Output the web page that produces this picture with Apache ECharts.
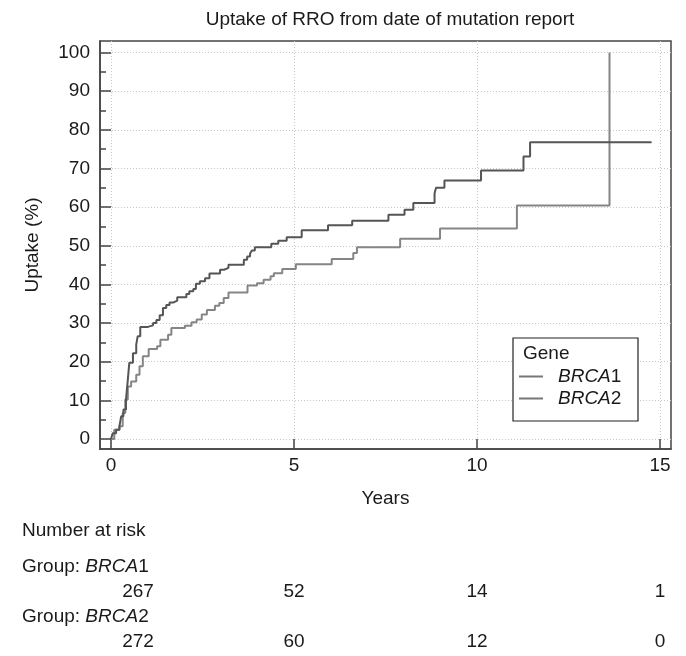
<!DOCTYPE html>
<html><head><meta charset="utf-8">
<script src="https://cdn.jsdelivr.net/npm/echarts@6/dist/echarts.min.js"></script>
<style>html,body{margin:0;padding:0;background:#fff}#c{width:686px;height:656px}</style>
</head><body><div id="c"></div>
<script>
const brca1Times  = [0,0.05,0.14,0.23,0.28,0.34,0.41,0.46,0.50,0.60,0.69,0.73,0.80,1.01,1.15,1.24,1.33,1.42,1.51,1.60,1.70,1.81,2.06,2.14,2.25,2.32,2.43,2.57,2.69,2.98,3.09,3.21,3.63,3.72,3.80,3.85,3.93,4.38,4.57,4.80,5.21,5.93,6.59,7.58,8.02,8.26,8.84,8.88,9.11,10.11,11.27,11.45,14.77];
const brca1Uptake = [0,1.5,2.4,3.3,5.9,7.6,10.2,15.3,19.7,22.2,24.4,26.6,29.0,29.4,30.0,30.8,32.0,33.9,34.7,35.3,35.8,36.7,37.5,38.2,38.8,40.2,40.8,41.6,42.8,43.8,44.3,45.1,46.4,47.2,48.0,48.8,49.6,50.5,51.3,52.2,54.0,55.3,56.5,58.0,59.3,61.1,63.5,65.0,66.9,69.5,73.1,76.8,76.8];
const brca2Times  = [0,0.09,0.23,0.32,0.39,0.46,0.55,0.69,0.78,0.87,1.03,1.26,1.35,1.56,1.65,2.02,2.20,2.34,2.48,2.62,2.84,2.96,3.08,3.21,3.73,3.99,4.17,4.36,4.45,4.68,5.05,6.03,6.62,6.72,7.90,8.99,11.09,13.62];
const brca2Uptake = [0,2.4,3.3,6.7,10.2,13.6,14.9,16.6,18.8,21.4,23.3,24.0,25.7,27.0,28.7,29.3,30.2,30.9,32.2,33.4,34.5,35.2,36.5,37.9,39.7,40.3,41.2,42.1,42.9,44.0,45.2,46.6,48.1,49.6,51.8,54.5,60.4,100];
const xTickValues = [0,5,10,15];
const yTickValues = [0,10,20,30,40,50,60,70,80,90,100];
const yMinorValues = [5,15,25,35,45,55,65,75,85,95];
const riskTimes = [0,5,10,15];
const riskBRCA1 = [267,52,14,1];
const riskBRCA2 = [272,60,12,0];
const groupNames = ['1','2'];

const FONT = "'Liberation Sans', Arial, sans-serif";
const FS = 19;
const TXT = '#1a1a1a';
const pair = (t, v) => t.map((x, i) => [x, v[i]]);
const chart = echarts.init(document.getElementById('c'));
const gridLine = {show: true, lineStyle: {color: '#c8c8c8', type: [1, 2], width: 1}};
const axisLineStyle = {show: true, onZero: false, lineStyle: {color: '#444', width: 1.5}};
const option = {
  animation: false,
  backgroundColor: '#fff',
  title: {text: 'Uptake of RRO from date of mutation report', left: 385, top: 5, textAlign: 'center',
    textStyle: {fontFamily: FONT, fontSize: 19, fontWeight: 'normal', color: TXT}},
  grid: {left: 100, top: 41, width: 571, height: 408, show: true, borderColor: '#444', borderWidth: 1.5, backgroundColor: 'transparent'},
  xAxis: [{type: 'value', min: -0.3, max: 15.3,
    axisLine: axisLineStyle,
    axisTick: {show: true, inside: true, length: 10, customValues: xTickValues, lineStyle: {color: '#444', width: 1.5}},
    axisLabel: {customValues: xTickValues, fontFamily: FONT, fontSize: FS, color: TXT, margin: 7},
    splitLine: gridLine,
    name: 'Years', nameLocation: 'middle', nameGap: 40, nameTextStyle: {fontFamily: FONT, fontSize: FS, color: TXT}
  }],
  yAxis: [{type: 'value', min: -2.6, max: 103,
    axisLine: axisLineStyle,
    axisTick: {show: true, inside: true, length: 11, customValues: yTickValues, lineStyle: {color: '#444', width: 1.5}},
    axisLabel: {customValues: yTickValues, fontFamily: FONT, fontSize: FS, color: TXT, margin: 10},
    splitLine: gridLine,
    name: 'Uptake (%)', nameLocation: 'middle', nameGap: 58, nameTextStyle: {fontFamily: FONT, fontSize: FS, color: TXT}
  }, {type: 'value', min: -2.6, max: 103, position: 'left',
    axisLine: {show: false, onZero: false},
    axisTick: {show: true, inside: true, length: 6, customValues: yMinorValues, lineStyle: {color: '#444', width: 1.5}},
    axisLabel: {show: false, customValues: yMinorValues},
    splitLine: {show: false}
  }],
  legend: {
    orient: 'vertical', left: 519, top: 367, padding: 0, itemWidth: 24, itemHeight: 2, itemGap: 3, icon: 'rect', z: 10,
    data: ['BRCA1', 'BRCA2'],
    formatter: n => '{g|}{i|BRCA}{n|' + n.slice(4) + '}',
    textStyle: {fontFamily: FONT, fontSize: FS, color: TXT,
      rich: {g: {width: 10}, i: {fontFamily: FONT, fontSize: FS, fontStyle: 'italic', color: TXT, lineHeight: 21}, n: {fontFamily: FONT, fontSize: FS, color: TXT, lineHeight: 21}}}
  },
  series: [
    {name: 'BRCA1', type: 'line', step: 'end', showSymbol: false, data: pair(brca1Times, brca1Uptake), color: '#555', lineStyle: {width: 2, color: '#555'}, itemStyle: {color: '#777'}, z: 3},
    {name: 'BRCA2', type: 'line', step: 'end', showSymbol: false, data: pair(brca2Times, brca2Uptake), color: '#858585', lineStyle: {width: 2, color: '#858585'}, itemStyle: {color: '#777'}, z: 2}
  ]
};
chart.setOption(option);

const graphics = [
  {type: 'rect', shape: {x: 513, y: 338, width: 125, height: 83}, style: {fill: '#fff', stroke: '#222', lineWidth: 1.2}, z: 5},
  {type: 'text', x: 523, y: 354, style: {text: 'Gene', font: FS + 'px ' + FONT, fill: TXT, verticalAlign: 'middle'}, z: 11},
  {type: 'text', x: 22, y: 531, style: {text: 'Number at risk', font: FS + 'px ' + FONT, fill: TXT, verticalAlign: 'middle'}}
];
const rows = [[riskBRCA1, 567, 592], [riskBRCA2, 617, 642]];
rows.forEach((r, gi) => {
  graphics.push({type: 'text', x: 22, y: r[1], style: {
    text: '{n|Group: }{i|BRCA}{n|' + groupNames[gi] + '}', verticalAlign: 'middle',
    rich: {n: {font: FS + 'px ' + FONT, fill: TXT}, i: {font: 'italic ' + FS + 'px ' + FONT, fill: TXT}}}});
  r[0].forEach((v, k) => {
    let px = chart.convertToPixel({xAxisIndex: 0}, riskTimes[k]);
    if (k === 0) px += 27;
    graphics.push({type: 'text', x: px, y: r[2], style: {text: String(v), font: FS + 'px ' + FONT, fill: TXT, align: 'center', verticalAlign: 'middle'}});
  });
});
chart.setOption({graphic: graphics});
</script></body></html>
